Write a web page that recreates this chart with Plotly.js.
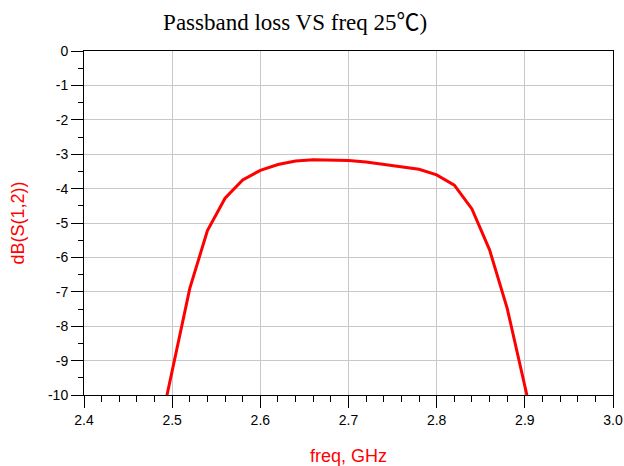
<!DOCTYPE html>
<html>
<head>
<meta charset="utf-8">
<script src="https://cdn.plot.ly/plotly-3.0.1.min.js"></script>
<style>html,body{margin:0;padding:0;background:#fff;}#chart{width:624px;height:466px;}</style>
</head>
<body>
<div id="chart"></div>
<script>
// Data
var freqGHz = [2.48, 2.50, 2.52, 2.54, 2.56, 2.58, 2.60, 2.62, 2.64, 2.66, 2.68, 2.70, 2.72, 2.74, 2.76, 2.78, 2.80, 2.82, 2.84, 2.86, 2.88, 2.90, 2.92];
var dbS12 = [-11.7, -9.31, -6.90, -5.22, -4.28, -3.75, -3.47, -3.30, -3.20, -3.16, -3.16, -3.18, -3.23, -3.30, -3.37, -3.44, -3.60, -3.90, -4.59, -5.78, -7.48, -9.7, -12.0];
var xTickVals = [2.4, 2.5, 2.6, 2.7, 2.8, 2.9, 3.0];
var xTickText = ["2.4", "2.5", "2.6", "2.7", "2.8", "2.9", "3.0"];
var yTickVals = [0, -1, -2, -3, -4, -5, -6, -7, -8, -9, -10];
var yTickText = ["0", "-1", "-2", "-3", "-4", "-5", "-6", "-7", "-8", "-9", "-10"];
var titleText = "Passband loss VS freq 25℃)";
var xTitle = "freq, GHz";
var yTitle = "dB(S(1,2))";

var trace = {
  x: freqGHz,
  y: dbS12,
  type: "scatter",
  mode: "lines",
  line: {color: "#ff0000", width: 3},
  hoverinfo: "none",
  cliponaxis: true
};

var tickFont = {family: "Liberation Sans, Arial, sans-serif", size: 14, color: "#000"};

var layout = {
  width: 624,
  height: 466,
  margin: {l: 84, r: 11, t: 51, b: 71, pad: 0},
  paper_bgcolor: "#fff",
  plot_bgcolor: "#fff",
  showlegend: false,
  title: {
    text: titleText,
    font: {family: "Liberation Serif, Times New Roman, Noto Sans CJK SC, serif", size: 23, color: "#000"},
    xref: "container", yref: "container",
    x: 0.473, xanchor: "center",
    y: 0.953, yanchor: "middle"
  },
  xaxis: {
    range: [2.4, 3.0],
    tickvals: xTickVals,
    ticktext: xTickText,
    ticks: "outside",
    ticklen: 12,
    tickwidth: 1,
    tickcolor: "#000",
    showline: true,
    linecolor: "#000",
    linewidth: 1,
    mirror: true,
    showgrid: true,
    gridcolor: "#c8c8c8",
    gridwidth: 1,
    zeroline: false,
    tickfont: tickFont,
    minor: {dtick: 0.02, ticks: "outside", ticklen: 6, tickcolor: "#000", tickwidth: 1, showgrid: false},
    title: {text: xTitle, font: {family: "Liberation Sans, Arial, sans-serif", size: 18, color: "#ff0000"}, standoff: 24}
  },
  yaxis: {
    range: [-10, 0],
    tickvals: yTickVals,
    ticktext: yTickText,
    ticks: "outside",
    ticklen: 12,
    tickwidth: 1,
    tickcolor: "#000",
    showline: true,
    linecolor: "#000",
    linewidth: 1,
    mirror: true,
    showgrid: true,
    gridcolor: "#c8c8c8",
    gridwidth: 1,
    zeroline: false,
    tickfont: tickFont,
    minor: {dtick: 0.5, ticks: "outside", ticklen: 5, tickcolor: "#000", tickwidth: 1, showgrid: false},
    title: {text: yTitle, font: {family: "Liberation Sans, Arial, sans-serif", size: 18, color: "#ff0000"}, standoff: 18}
  }
};

Plotly.newPlot("chart", [trace], layout, {staticPlot: true, displayModeBar: false});
</script>
</body>
</html>
